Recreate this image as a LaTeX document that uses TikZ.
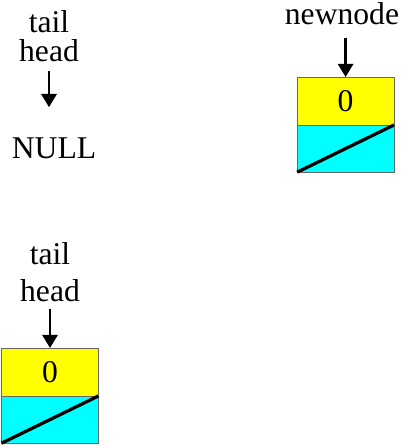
\documentclass[tikz,border=0pt]{standalone}
\usepackage{fontspec}
\setmainfont{Liberation Serif}
\usetikzlibrary{positioning,arrows.meta}

\definecolor{valyellow}{RGB}{255,255,0}
\definecolor{ptrcyan}{RGB}{0,255,255}

\tikzset{
    lbl/.style={inner sep=0pt, anchor=base, font=\fontsize{22.5}{26}\selectfont},
    valbox/.style={draw=black!60, line width=0.6pt, fill=valyellow, inner sep=0pt, outer sep=0pt,
        minimum width=2.42cm, minimum height=1.2cm, font=\fontsize{22.5}{26}\selectfont},
    ptrbox/.style={draw=black!60, line width=0.6pt, fill=ptrcyan, inner sep=0pt, outer sep=0pt,
        minimum width=2.42cm, minimum height=1.18cm},
    ptrarrow/.style={line width=2pt, -{Triangle[width=0.38cm, length=0.33cm]}}
}

\begin{document}
\begin{tikzpicture}
    \useasboundingbox (0,0) rectangle (10.1,11.125);

    % empty list
    \node[lbl] (tailA) at (1.225,10.3) {tail};
    \node[lbl] (headA) at (1.225,9.575) {head};
    \node[lbl] (null) at (1.35,7.15) {NULL};
    \draw[ptrarrow, shorten <=0.2cm, shorten >=0.77cm] (headA.south) -- (null.north -| headA.south);

    % the new node
    \node[lbl] (newnode) at (8.55,10.5) {newnode};
    \node[valbox] (valB) at (8.64,8.6) {0};
    \node[ptrbox, below=0pt of valB] (ptrB) {};
    \draw[line width=2.3pt] (ptrB.south west) -- (ptrB.north east);
    \draw[ptrarrow, shorten <=0.3cm] (newnode.south -| valB.north) -- (valB.north);

    % list with one node
    \node[lbl] (tailC) at (1.25,4.5) {tail};
    \node[lbl] (headC) at (1.25,3.575) {head};
    \node[valbox] (valC) at (1.25,1.825) {0};
    \node[ptrbox, below=0pt of valC] (ptrC) {};
    \draw[line width=2.3pt] (ptrC.south west) -- (ptrC.north east);
    \draw[ptrarrow, shorten <=0.15cm] (headC.south) -- (valC.north);
\end{tikzpicture}
\end{document}
